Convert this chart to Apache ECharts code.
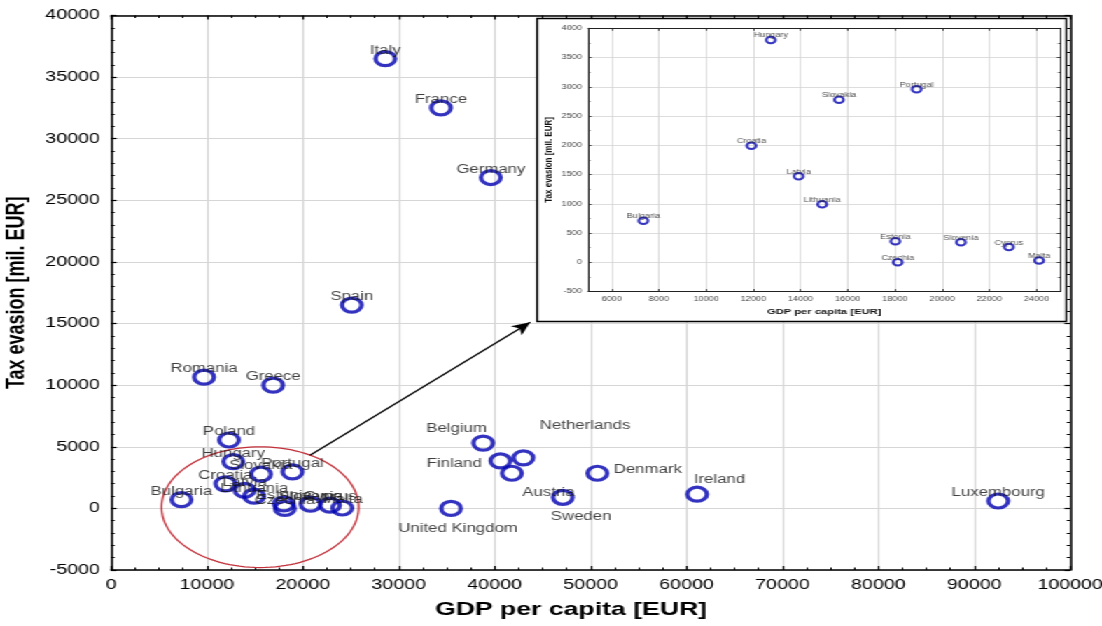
<!DOCTYPE html>
<html>
<head>
<meta charset="utf-8">
<script src="https://cdn.jsdelivr.net/npm/echarts@6/dist/echarts.min.js"></script>
<style>
  html, body { margin: 0; padding: 0; background: #fff; }
  #wrap { width: 1102px; height: 626px; overflow: hidden; position: relative; }
  #chart { width: 787px; height: 626px; transform: scaleX(1.40025); transform-origin: 0 0; }
</style>
</head>
<body>
<div id="wrap"><div id="chart"></div></div>
<script>
// ---- data ----
const countries = ['Italy','France','Germany','Spain','Romania','Greece','Poland','Hungary','Slovakia','Portugal','Croatia','Latvia','Lithuania','Bulgaria','Estonia','Czechia','Slovenia','Cyprus','Malta','Belgium','Netherlands','Finland','Austria','Denmark','Ireland','Sweden','United Kingdom','Luxembourg'];
const gdpPerCapita = [28600,34400,39600,25100,9700,16900,12300,12740,15630,18920,11920,13920,14920,7340,18020,18120,20800,22830,24110,38800,43000,40600,41800,50700,61100,47100,35450,92500];
const taxEvasion = [36500,32500,26850,16500,10650,10000,5550,3800,2780,2960,1990,1470,990,710,360,0,340,260,30,5300,4100,3850,2850,2850,1150,900,0,600];
const insetCountries = ['Hungary','Portugal','Slovakia','Croatia','Latvia','Lithuania','Bulgaria','Estonia','Czechia','Slovenia','Cyprus','Malta'];
const insetXTicks = [6000,8000,10000,12000,14000,16000,18000,20000,22000,24000];
const ellipseCenter = [15540, 100];
const ellipseRadius = [10280, 4900];
const arrowFrom = [20750, 4320];
const arrowTo = [43700, 15100];

// ---- styling ----
const FONT = "'Liberation Sans', Arial, sans-serif";
const BLUE = '#0000b0';
const plain = v => String(v);
const labelOffsets = {
  'Belgium': [-19, -14], 'Netherlands': [44, -32], 'Finland': [-33, 3], 'Austria': [26, 19],
  'Denmark': [36, -4], 'Ireland': [16, -15], 'Sweden': [13, 19], 'United Kingdom': [5, 20]
};

const mainData = countries.map((c, i) => ({
  name: c,
  value: [gdpPerCapita[i], taxEvasion[i]],
  label: { offset: labelOffsets[c] || [0, -8] }
}));
const insetData = countries
  .map((c, i) => ({ name: c, value: [gdpPerCapita[i], taxEvasion[i]] }))
  .filter(d => insetCountries.indexOf(d.name) >= 0);

const chart = echarts.init(document.getElementById('chart'), null, { renderer: 'canvas' });

const mainAxisCommon = {
  axisLine: { show: true, onZero: false, lineStyle: { color: '#000', width: 1.5 } },
  axisTick: { show: true, inside: true, length: 4, lineStyle: { color: '#000', width: 1.2 } },
  minorTick: { show: true, length: 2.5, lineStyle: { color: '#000', width: 1 } },
};
const insetAxisCommon = {
  zlevel: 1,
  axisLine: { show: true, onZero: false, lineStyle: { color: '#222', width: 1 } },
  axisTick: { show: true, inside: true, length: 2.5, lineStyle: { color: '#222', width: 0.8 } },
};

const option = {
  backgroundColor: '#fff',
  animation: false,
  textStyle: { fontFamily: FONT },
  graphic: [{
    type: 'rect', zlevel: 1, z: 0,
    shape: { x: 383.6, y: 18.5, width: 377.9, height: 303 },
    style: { fill: '#fff', stroke: '#000', lineWidth: 1.4 }
  }],
  grid: [
    { left: 79.3, right: 22.7, top: 15.5, bottom: 56, outerBoundsMode: 'none', containLabel: false },
    { left: 420, right: 29.9, top: 28.3, bottom: 334.5, outerBoundsMode: 'none', containLabel: false,
      zlevel: 1, show: true, backgroundColor: '#fff', borderWidth: 0 }
  ],
  xAxis: [
    Object.assign({}, mainAxisCommon, {
      type: 'value', gridIndex: 0, min: 0, max: 100000, interval: 10000,
      minorTick: Object.assign({}, mainAxisCommon.minorTick, { splitNumber: 4 }),
      axisLabel: { color: '#000', fontSize: 14, fontFamily: FONT, margin: 8, formatter: plain },
      splitLine: { show: true, lineStyle: { color: '#d6d6d6', width: 1.2 } },
      name: 'GDP per capita [EUR]', nameLocation: 'middle', nameGap: 30,
      nameTextStyle: { color: '#000', fontSize: 19, fontWeight: 'bold', fontFamily: FONT, padding: [0, 28, 0, 0] }
    }),
    Object.assign({}, mainAxisCommon, {
      type: 'value', gridIndex: 0, position: 'top', min: 0, max: 100000, interval: 10000,
      minorTick: Object.assign({}, mainAxisCommon.minorTick, { splitNumber: 4 }),
      axisLabel: { show: false }, splitLine: { show: false }
    }),
    Object.assign({}, insetAxisCommon, {
      type: 'value', gridIndex: 1, min: 5000, max: 25000,
      axisTick: Object.assign({}, insetAxisCommon.axisTick, { customValues: insetXTicks }),
      axisLabel: { customValues: insetXTicks, color: '#444', fontSize: 6.5, fontFamily: FONT, margin: 4, formatter: plain },
      splitLine: { show: true, lineStyle: { color: '#d4d4d4', width: 0.8 } },
      name: 'GDP per capita [EUR]', nameLocation: 'middle', nameGap: 16,
      nameTextStyle: { color: '#111', fontSize: 8, fontWeight: 'bold', fontFamily: FONT }
    }),
    Object.assign({}, insetAxisCommon, {
      type: 'value', gridIndex: 1, position: 'top', min: 5000, max: 25000,
      axisTick: Object.assign({}, insetAxisCommon.axisTick, { customValues: insetXTicks }),
      axisLabel: { show: false }, splitLine: { show: false }
    })
  ],
  yAxis: [
    Object.assign({}, mainAxisCommon, {
      type: 'value', gridIndex: 0, min: -5000, max: 40000, interval: 5000,
      minorTick: Object.assign({}, mainAxisCommon.minorTick, { splitNumber: 5 }),
      axisLabel: { color: '#000', fontSize: 14, fontFamily: FONT, margin: 8, formatter: plain },
      splitLine: { show: true, lineStyle: { color: '#d6d6d6', width: 1.2 } },
      name: 'Tax evasion [mil. EUR]', nameLocation: 'middle', nameGap: 45,
      nameTextStyle: { color: '#000', fontSize: 18, fontWeight: 'bold', fontFamily: FONT }
    }),
    Object.assign({}, mainAxisCommon, {
      type: 'value', gridIndex: 0, position: 'right', min: -5000, max: 40000, interval: 5000,
      minorTick: Object.assign({}, mainAxisCommon.minorTick, { splitNumber: 5 }),
      axisLabel: { show: false }, splitLine: { show: false }
    }),
    Object.assign({}, insetAxisCommon, {
      type: 'value', gridIndex: 1, min: -500, max: 4000, interval: 500,
      minorTick: { show: true, splitNumber: 2, length: 1.5, lineStyle: { color: '#222', width: 0.7 } },
      axisLabel: { color: '#444', fontSize: 6.5, fontFamily: FONT, margin: 4.5, formatter: plain },
      splitLine: { show: true, lineStyle: { color: '#d4d4d4', width: 0.8 } },
      name: 'Tax evasion [mil. EUR]', nameLocation: 'middle', nameGap: 24,
      nameTextStyle: { color: '#111', fontSize: 8, fontWeight: 'bold', fontFamily: FONT }
    }),
    Object.assign({}, insetAxisCommon, {
      type: 'value', gridIndex: 1, position: 'right', min: -500, max: 4000, interval: 500,
      minorTick: { show: true, splitNumber: 2, length: 1.5, lineStyle: { color: '#222', width: 0.7 } },
      axisLabel: { show: false }, splitLine: { show: false }
    })
  ],
  series: [
    {
      type: 'custom', xAxisIndex: 0, yAxisIndex: 0, silent: true, clip: false, z: 1,
      data: [[ellipseCenter[0], ellipseCenter[1], ellipseRadius[0], ellipseRadius[1]]],
      renderItem: function (params, api) {
        const c = api.coord([api.value(0), api.value(1)]);
        const s = api.size([api.value(2), api.value(3)]);
        const pts = [];
        for (let k = 0; k < 120; k++) {
          const a = k / 120 * Math.PI * 2;
          pts.push([c[0] + s[0] * Math.cos(a), c[1] + s[1] * Math.sin(a)]);
        }
        return { type: 'polygon', shape: { points: pts }, style: { fill: 'none', stroke: '#c3303a', lineWidth: 1.3 } };
      }
    },
    {
      type: 'scatter', xAxisIndex: 0, yAxisIndex: 0, z: 3,
      symbol: 'circle', symbolSize: 14,
      itemStyle: { color: 'rgba(0,0,0,0)', borderColor: BLUE, borderWidth: 3.2 },
      label: { show: true, position: 'inside', formatter: '{b}', color: '#111', fontSize: 12, fontFamily: FONT },
      emphasis: { disabled: true },
      data: mainData,
      markLine: {
        silent: true, animation: false,
        symbol: ['none', 'arrow'], symbolSize: [9, 13],
        lineStyle: { color: '#000', width: 1.3, type: 'solid' },
        label: { show: false },
        data: [[{ coord: arrowFrom }, { coord: arrowTo }]]
      }
    },
    {
      type: 'scatter', xAxisIndex: 2, yAxisIndex: 2, zlevel: 1, z: 3,
      symbol: 'circle', symbolSize: 6.5,
      itemStyle: { color: 'rgba(0,0,0,0)', borderColor: BLUE, borderWidth: 2 },
      label: { show: true, position: 'inside', offset: [0, -4.3], formatter: '{b}', color: '#222', fontSize: 6.5, fontFamily: FONT },
      emphasis: { disabled: true },
      data: insetData
    }
  ]
};
chart.setOption(option);
</script>
</body>
</html>
